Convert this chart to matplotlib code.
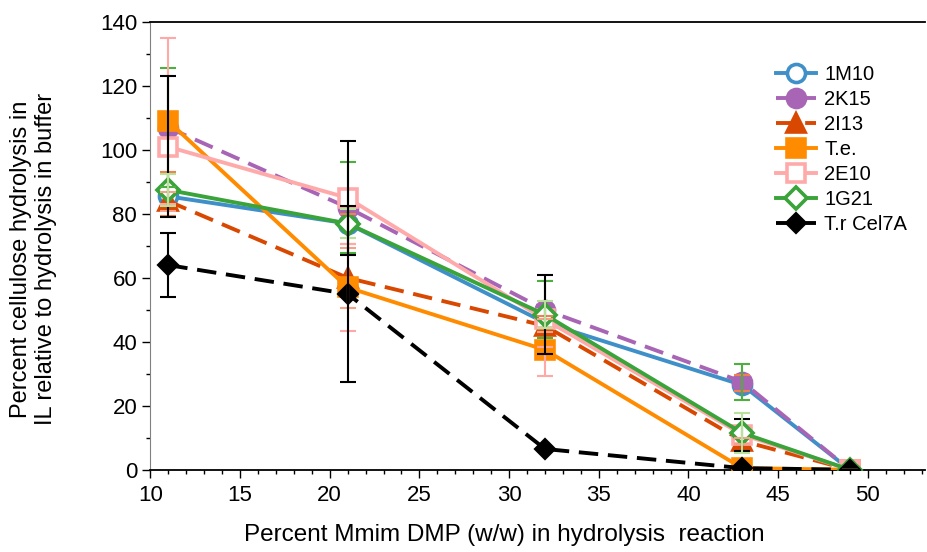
import numpy as np
import matplotlib.pyplot as plt

plt.rcParams['font.family'] = ['Liberation Sans', 'DejaVu Sans']

# percent Mmim DMP
x = [11, 21, 32, 43, 49]

nomes = ["1M10", "2K15", "2I13", "T.e.", "2E10", "1G21", "T.r Cel7A"]

y_1m10 = [85.5, 77, 46, 26.5, 0]
y_2k15 = [107, 82, 50, 27.5, 0]
y_2i13 = [84, 60, 45, 9, 0]
y_te = [109, 57, 37.5, 0.5, 0]
y_2e10 = [101, 85, 47, 11, 0]
y_1g21 = [87.5, 77, 48.5, 11.5, 0]
y_tr = [64, 55, 6.5, 0.5, 0]

# barras de erro (baixo, cima)
err_1m10 = [[6, 6.5, 2, 2, 0], [7.7, 3, 2, 3.2, 0]]
err_2k15 = [[18.5, 14.3, 8.9, 5.6, 0], [18.5, 14.3, 8.9, 5.6, 0]]
err_2i13 = [[3, 9.5, 2, 1, 0], [3, 9.5, 2, 1, 0]]
err_te = [[26, 13.5, 8.3, 0, 0], [26, 13.5, 1, 0, 0]]
err_2e10 = [[22, 17.7, 10.8, 5, 0], [22, 17.7, 14, 5, 0]]
err_1g21 = [[5, 4.4, 4.2, 6.4, 0], [5, 4.4, 4.2, 6.4, 0]]
err_tr = [[10, 27.5, 0.5, 0.3, 0], [10, 27.5, 0.5, 0.3, 0]]

plt.close("all")
fig = plt.figure(figsize=(9.28, 5.52), dpi=100)
ax = fig.add_axes([0.162, 0.149, 0.835, 0.811])

series = [
    (y_1m10, err_1m10, "#3f8fc8", "-", "o", "white", "#f08050", 13, 3),
    (y_2k15, err_2k15, "#a865b5", (0, (5, 2.5)), "o", "#a865b5", "#4caf3e", 13, 4),
    (y_2i13, err_2i13, "#d94801", (0, (5, 2.5)), "^", "#d94801", "#f4a38a", 13, 5),
    (y_te, err_te, "#ff8c00", "-", "s", "#ff8c00", "#ffa8a8", 13, 6),
    (y_2e10, err_2e10, "#ffaaaa", "-", "s", "white", "black", 13, 7),
    (y_1g21, err_1g21, "#3aa33a", "-", "D", "white", "#b8e29a", 11, 8),
    (y_tr, err_tr, "black", (0, (5, 2.5)), "D", "black", "black", 9, 9),
]

for (yy, ee, cor, ls, mk, face, ecor, ms, z), nome in zip(series, nomes):
    ax.errorbar(x, yy, yerr=np.array(ee), fmt="none", ecolor=ecor,
                elinewidth=1.5, capsize=6, capthick=1.5, zorder=z + 10)
    ax.plot(x, yy, color=cor, linestyle=ls, linewidth=2.8, marker=mk,
            markersize=ms, markerfacecolor=face, markeredgecolor=cor,
            markeredgewidth=2.6, label=nome, zorder=z)

ax.set_xlim(10, 53.2)
ax.set_ylim(0, 140)
ax.set_xticks(np.arange(10, 51, 5))
ax.set_xticks(np.arange(10, 54, 1), minor=True)
ax.set_yticks(np.arange(0, 141, 20))
ax.set_yticks(np.arange(0, 141, 10), minor=True)
ax.tick_params(which="major", length=6, width=1, labelsize=16)
ax.tick_params(which="minor", length=3, width=1)
ax.tick_params(axis="x", pad=5)

ax.spines["right"].set_visible(False)
ax.spines["left"].set_color("gray")
ax.spines["top"].set_linewidth(1.3)
ax.spines["bottom"].set_linewidth(1.3)

ax.set_xlabel("Percent Mmim DMP (w/w) in hydrolysis  reaction", fontsize=17.5)
ax.xaxis.set_label_coords(0.457, -0.122)
ax.set_ylabel("Percent cellulose hydrolysis in\nIL relative to hydrolysis in buffer",
              fontsize=17)
ax.yaxis.set_label_coords(-0.12, 0.47)

ax.legend(loc="upper right", bbox_to_anchor=(1.0, 0.945), frameon=False,
          fontsize=14.5, handlelength=2.0, labelspacing=0.3, handletextpad=0.4)

plt.savefig("out.png")
